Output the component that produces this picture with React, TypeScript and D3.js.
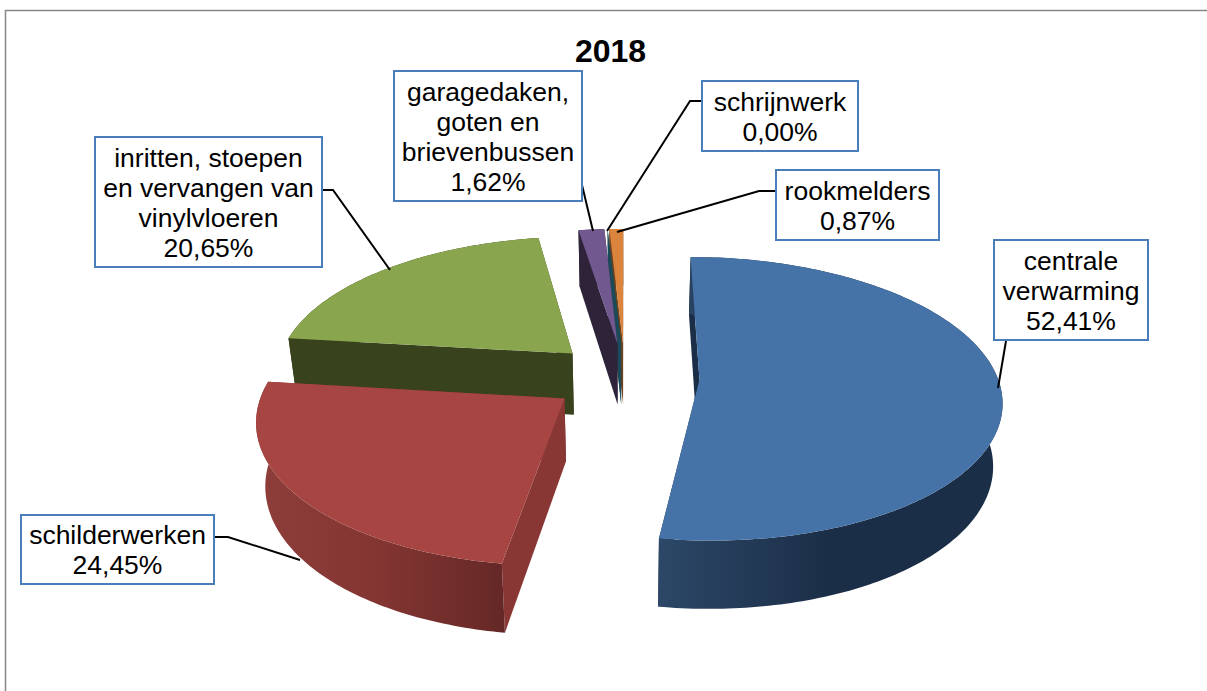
import React from "react";
import * as d3 from "d3";

const categories = ["centrale verwarming", "schilderwerken", "inritten, stoepen en vervangen van vinylvloeren", "garagedaken, goten en brievenbussen", "schrijnwerk", "rookmelders"];
const shares = [52.41, 24.45, 20.65, 1.62, 0.0, 0.87];
const shareLabels = ["52,41%", "24,45%", "20,65%", "1,62%", "0,00%", "0,87%"];
const titleText = "2018";

const topColors = ["#4572a7", "#a64542", "#89a54e", "#71588f", "#4198af", "#db843d"];
const sideColors = ["#1b2e47", "#883735", "#38421d", "#2e2339", "#1b4a58", "#6d421e"];
const rimStops: [number, string][][] = [
  [[0, "#2c4767"], [0.5, "#1b2e47"], [1, "#1b2e47"]],
  [[0, "#8e3d3a"], [0.5, "#833532"], [1, "#652826"]],
  [[0, "#38421d"], [1, "#38421d"]],
  [[0, "#2e2339"], [1, "#2e2339"]],
  [[0, "#1b4a58"], [1, "#1b4a58"]],
  [[0, "#6d421e"], [1, "#6d421e"]],
];
const drawOrder = [5, 4, 3, 2, 1, 0];

// Label boxes: x, y, w, h, text lines, leader polyline
const labelLayout = [
  { i: 0, x: 994, y: 240, w: 154, h: 100, lines: ["centrale", "verwarming"], leader: [[1006, 341], [998, 388]] },
  { i: 1, x: 21, y: 515, w: 193, h: 69, lines: ["schilderwerken"], leader: [[214, 537], [228, 537], [300, 560]] },
  { i: 2, x: 95, y: 137, w: 227, h: 130, lines: ["inritten, stoepen", "en vervangen van", "vinylvloeren"], leader: [[322, 190], [333, 190], [390, 270]] },
  { i: 3, x: 394, y: 71, w: 188, h: 130, lines: ["garagedaken,", "goten en", "brievenbussen"], leader: [[582, 185], [593, 231]] },
  { i: 4, x: 702, y: 81, w: 156, h: 70, lines: ["schrijnwerk"], leader: [[702, 101], [690, 101], [607, 231]] },
  { i: 5, x: 776, y: 170, w: 163, h: 70, lines: ["rookmelders"], leader: [[776, 191], [759, 191], [617, 232]] },
];

const FONT = "'Liberation Sans', Arial, sans-serif";
const W = 1207, H = 691;
const cx = 625, cy = 377, Rx = 298, Ry = 138.5, persp = 0.135, lean = 0.025, explode = 0.25;

function project(X: number, Y: number, z: number): [number, number] {
  const s = 1 / (1 - persp * Y);
  const x = Rx * X * s * (1 - lean * z);
  const y = cy + Ry * Y * s + z * (23 + 39 * s);
  return [cx + x, y];
}

const pieGen = d3.pie<number>().sort(null).value((d) => d);
const arcs = pieGen(shares);
const lineGen = d3.line<[number, number]>();

function sliceGeometry(startAngle: number, endAngle: number) {
  const mid = (startAngle + endAngle) / 2;
  const ox = explode * Math.sin(mid), oy = -explode * Math.cos(mid);
  const n = Math.max(2, Math.ceil(((endAngle - startAngle) * 180) / Math.PI));
  const angles = d3.range(n + 1).map((k) => startAngle + ((endAngle - startAngle) * k) / n);
  const rim = (z: number) => angles.map((a) => project(ox + Math.sin(a), oy - Math.cos(a), z));
  const apex = (z: number) => project(ox, oy, z);
  return { rim, apex };
}

export default function App() {
  const slices = arcs.map((a, i) => {
    const g = sliceGeometry(a.startAngle, a.endAngle);
    const top = g.rim(0), bot = g.rim(1);
    const a0 = g.apex(0), a1 = g.apex(1);
    const xs = top.map((p) => p[0]);
    return {
      i,
      x0: d3.min(xs) as number,
      x1: d3.max(xs) as number,
      top: lineGen([a0, ...top]) + "Z",
      outer: lineGen([...top, ...[...bot].reverse()]) + "Z",
      sideA: lineGen([a0, top[0], bot[0], a1]) + "Z",
      sideB: lineGen([a0, top[top.length - 1], bot[bot.length - 1], a1]) + "Z",
    };
  });

  return (
    <svg width={W} height={H} viewBox={`0 0 ${W} ${H}`} style={{ position: "absolute", left: 0, top: 0, background: "#fff" }}>
      <defs>
        {slices.map((s) => (
          <linearGradient key={s.i} id={`rim${s.i}`} gradientUnits="userSpaceOnUse" x1={s.x0} x2={s.i === 1 ? 503 : s.x1} y1={0} y2={0}>
            {rimStops[s.i].map(([o, c], k) => (
              <stop key={k} offset={o} stopColor={c} />
            ))}
          </linearGradient>
        ))}
      </defs>
      <path d={`M5.5,${H}V10.5H${W}`} fill="none" stroke="#868686" strokeWidth={1.5} />
      <text x={610.5} y={62} textAnchor="middle" fontFamily={FONT} fontWeight="bold" fontSize={32} fill="#000">{titleText}</text>

      {drawOrder.map((idx) => {
        const s = slices[idx];
        return (
          <g key={idx}>
            <path d={s.sideA} fill={sideColors[idx]} />
            <path d={s.sideB} fill={sideColors[idx]} />
            <path d={s.outer} fill={`url(#rim${idx})`} />
            <path d={s.top} fill={topColors[idx]} />
          </g>
        );
      })}

      {labelLayout.map((l) => (
        <polyline key={l.i} points={l.leader.map((p) => p.join(",")).join(" ")} fill="none" stroke="#000" strokeWidth={2} />
      ))}
      {labelLayout.map((l) => {
        const rows = [...l.lines, shareLabels[l.i]];
        const lh = 30;
        const first = l.y + l.h / 2 - ((rows.length - 1) * lh) / 2;
        return (
          <g key={l.i} aria-label={categories[l.i]}>
            <rect x={l.x} y={l.y} width={l.w} height={l.h} fill="#fff" stroke="#4a7ebb" strokeWidth={2} />
            {rows.map((t, k) => (
              <text key={k} x={l.x + l.w / 2} y={first + k * lh + 9.5} textAnchor="middle" fontFamily={FONT} fontSize={26.5} fill="#000">{t}</text>
            ))}
          </g>
        );
      })}
    </svg>
  );
}
